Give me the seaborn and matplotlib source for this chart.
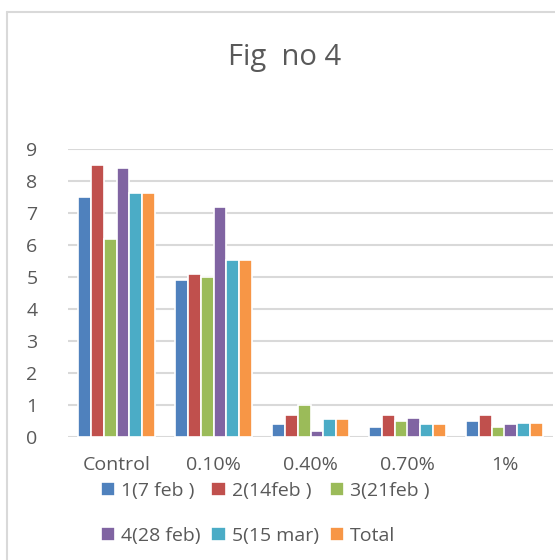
import matplotlib
matplotlib.use("Agg")
import matplotlib.pyplot as plt
from matplotlib.lines import Line2D
import seaborn as sns
import pandas as pd

# Treatment groups and sampling dates
categories = ["Control", "0.10%", "0.40%", "0.70%", "1%"]
series_names = ["1(7 feb )", "2(14feb )", "3(21feb )", "4(28 feb)", "5(15 mar)", "Total"]

s1 = [7.5, 4.9, 0.4, 0.3, 0.5]
s2 = [8.5, 5.1, 0.7, 0.7, 0.7]
s3 = [6.2, 5.0, 1.0, 0.5, 0.3]
s4 = [8.4, 7.2, 0.2, 0.6, 0.4]
s5 = [7.63, 5.53, 0.55, 0.4, 0.45]
total = [7.63, 5.53, 0.55, 0.4, 0.45]

colors = ["#4f81bd", "#c0504d", "#9bbb59", "#8064a2", "#4bacc6", "#f79646"]

rows = []
for name, vals in zip(series_names, [s1, s2, s3, s4, s5, total]):
    for cat, v in zip(categories, vals):
        rows.append({"group": cat, "series": name, "value": v})
df = pd.DataFrame(rows)

sns.set_theme(style="white")
plt.rcParams["font.family"] = ["Open Sans", "DejaVu Sans"]
text_color = "#595959"

W, H = 555, 560
fig = plt.figure(figsize=(W / 100, H / 100), dpi=100)
ax = fig.add_axes([68 / W, 1 - 437 / H, 485 / W, 288 / H])

sns.barplot(data=df, x="group", y="value", hue="series", order=categories,
            hue_order=series_names, palette=colors, width=0.8, saturation=1,
            edgecolor="white", linewidth=1.2, ax=ax, legend=True)

ax.set_ylim(0, 9)
ax.set_xlim(-0.5, 4.5)
ax.set_yticks(range(0, 10))
ax.yaxis.grid(True, color="#d9d9d9", linewidth=1.5)
ax.set_axisbelow(True)
for sp in ax.spines.values():
    sp.set_visible(False)
ax.set_xlabel("")
ax.set_ylabel("")
ax.tick_params(axis="both", length=0, labelsize=14, colors=text_color)
ax.tick_params(axis="y", pad=22)
ax.tick_params(axis="x", pad=14)

fig.text(285 / W, 1 - 58 / H, "Fig  no 4", fontsize=21, color=text_color,
         ha="center", va="center")

# legend laid out row by row: three entries per row
handles, labels = ax.get_legend_handles_labels()
order = [0, 3, 1, 4, 2, 5]
ax.legend([handles[i] for i in order], [labels[i] for i in order],
          loc="upper left", bbox_to_anchor=(25 / 485, -37 / 288),
          ncol=3, frameon=False, fontsize=14, labelcolor=text_color,
          handlelength=0.75, handleheight=0.75, handletextpad=0.3,
          columnspacing=0.55, labelspacing=1.4, borderaxespad=0)

# chart area border (open toward the right and bottom edges)
fig.add_artist(Line2D([7 / W, 7 / W], [0, 1 - 12 / H], transform=fig.transFigure,
                      color="#d9d9d9", linewidth=1.5))
fig.add_artist(Line2D([7 / W, 1], [1 - 12 / H, 1 - 12 / H], transform=fig.transFigure,
                      color="#d9d9d9", linewidth=1.5))

fig.savefig("out.png", dpi=100)
